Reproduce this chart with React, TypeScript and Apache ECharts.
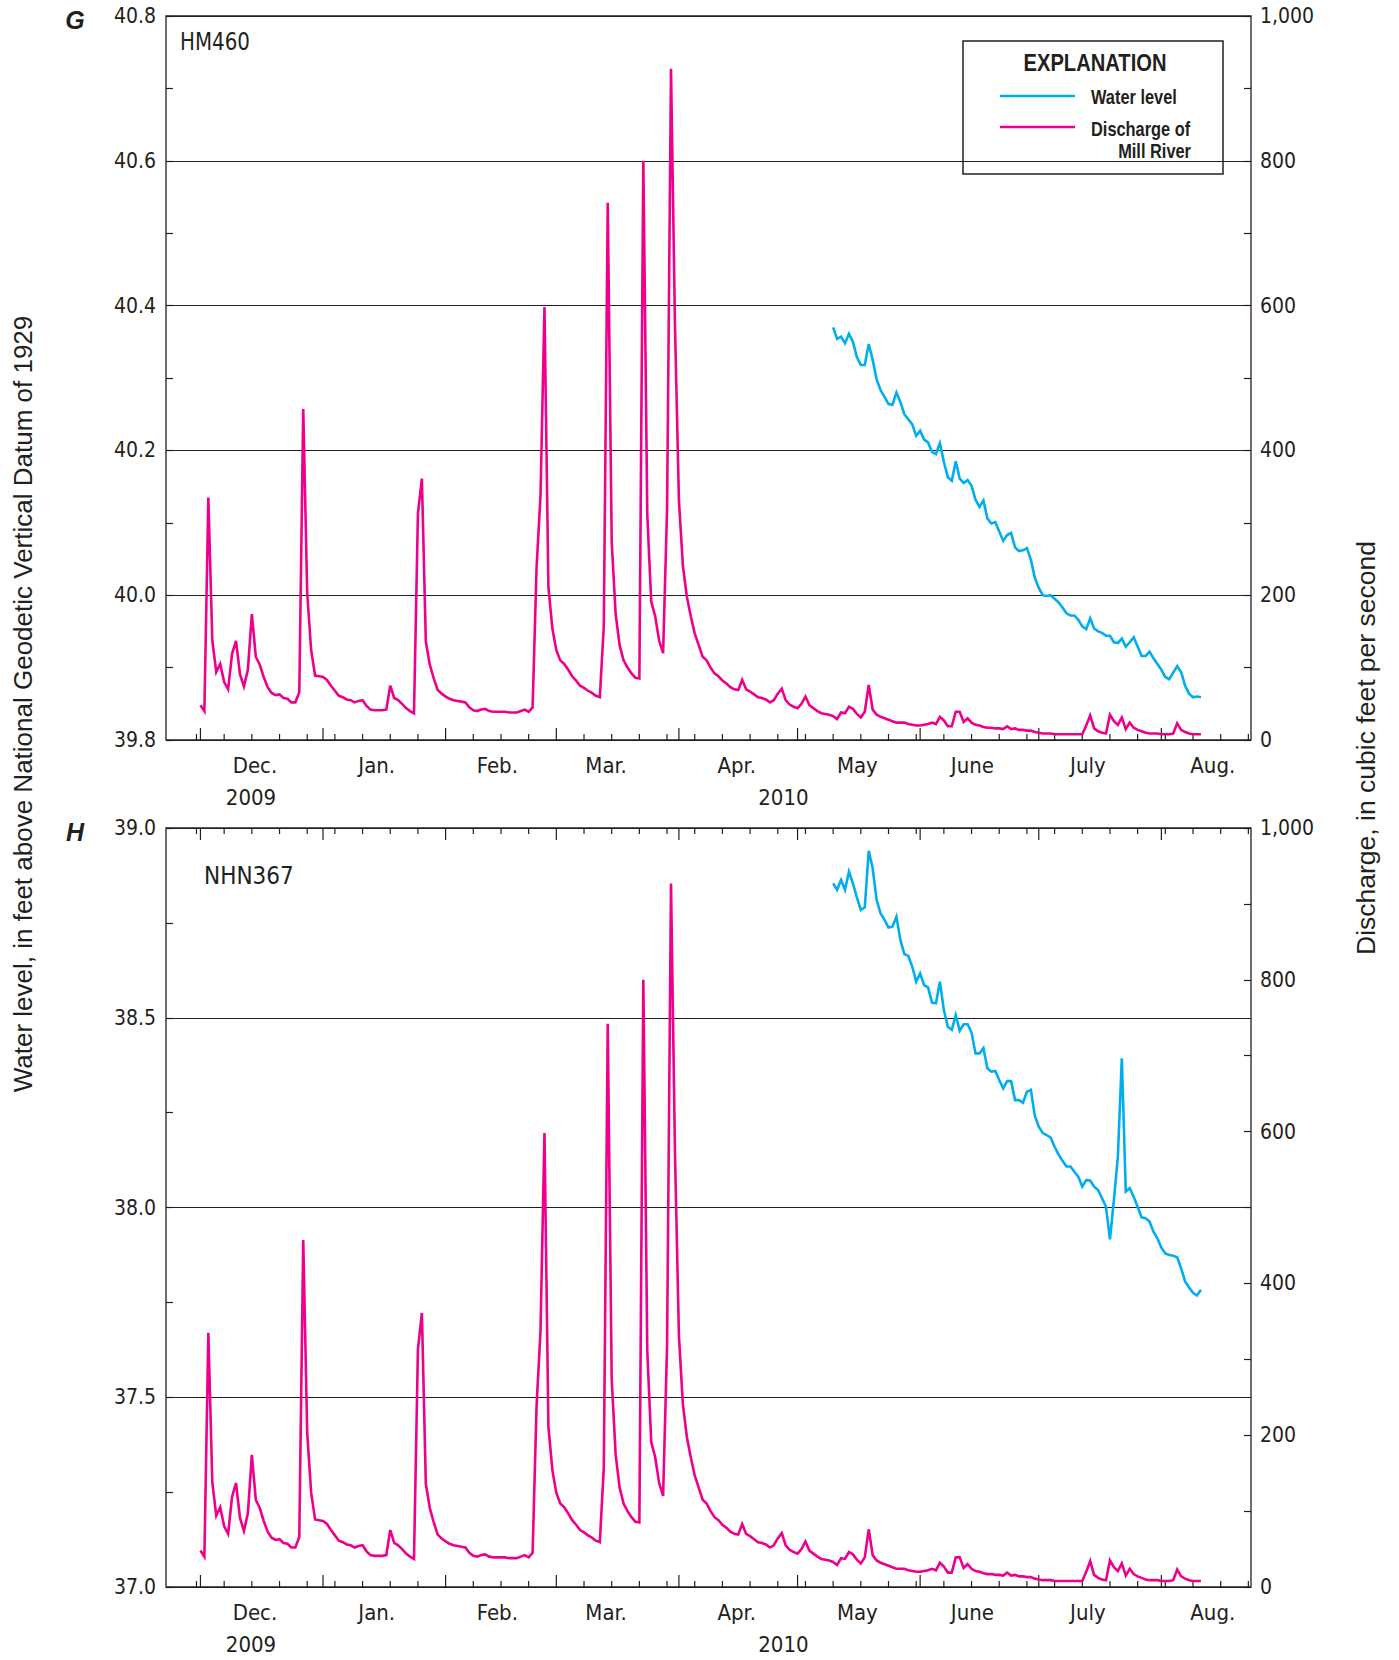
import React, { useEffect, useRef } from "react";
import * as echarts from "echarts";

const DAY_MS = 86400000;
const utc = (y: number, m: number, d: number, h = 0) => Date.UTC(y, m - 1, d, h);

// Daily discharge of Mill River, cubic feet per second (first value is Dec. 1, 2009)
const dischargeStart = utc(2009, 12, 1);
const dischargeDec2009 = [48, 40, 335, 138, 94, 105, 80, 70, 119, 137, 91, 74, 97, 174, 115, 104, 87, 73, 65, 62, 63, 58, 57, 52, 52, 66, 457, 203, 124, 89, 88];
const dischargeJan2010 = [87, 83, 75, 68, 61, 59, 56, 55, 52, 54, 55, 47, 42, 41, 41, 41, 42, 75, 58, 55, 50, 44, 40, 37, 313, 361, 136, 104, 85, 69, 64];
const dischargeFeb2010 = [60, 57, 55, 54, 53, 52, 45, 41, 40, 42, 43, 40, 39, 39, 39, 39, 38, 38, 38, 40, 42, 39, 45, 238, 338, 598, 211, 154];
const dischargeMar2010 = [124, 110, 105, 97, 88, 82, 75, 72, 68, 65, 61, 59, 157, 742, 274, 174, 131, 110, 100, 92, 86, 85, 800, 311, 191, 171, 137, 120, 318, 927, 573];
const dischargeApr2010 = [331, 241, 198, 171, 147, 131, 115, 110, 100, 92, 88, 82, 78, 73, 70, 69, 83, 70, 67, 63, 59, 58, 56, 52, 55, 64, 71, 55, 49, 46];
const dischargeMay2010 = [44, 50, 60, 48, 44, 40, 37, 36, 35, 33, 29, 38, 37, 46, 43, 36, 31, 39, 76, 42, 35, 32, 30, 28, 26, 24, 24, 24, 22, 21, 20];
const dischargeJun2010 = [20, 21, 22, 24, 22, 32, 27, 19, 19, 39, 39, 25, 30, 24, 21, 20, 18, 17, 17, 16, 16, 15, 19, 15, 16, 14, 14, 13, 13, 11];
const dischargeJul2010 = [10, 9, 9, 9, 8, 8, 8, 8, 8, 8, 8, 8, 20, 34, 16, 12, 10, 9, 35, 26, 21, 31, 15, 24, 17, 14, 12, 10, 9, 9, 9];
const dischargeAug2010 = [8, 8, 8, 9, 23, 14, 11, 9, 8, 8, 8];

// Daily water levels, feet above NGVD 1929 (first value is May 10, 2010)
const waterLevelStart = utc(2010, 5, 10);
const waterLevelHM460 = [
  40.370, 40.354, 40.357, 40.348, 40.361, 40.350, 40.329, 40.318, 40.318, 40.347,
  40.325, 40.298, 40.283, 40.274, 40.264, 40.263, 40.280, 40.267, 40.250, 40.243,
  40.236, 40.220, 40.227, 40.215, 40.211, 40.198, 40.195, 40.210, 40.184, 40.163,
  40.158, 40.185, 40.161, 40.155, 40.159, 40.151, 40.132, 40.122, 40.131, 40.106,
  40.099, 40.101, 40.088, 40.075, 40.083, 40.086, 40.066, 40.061, 40.062, 40.065,
  40.049, 40.024, 40.010, 40.000, 39.999, 40.000, 39.995, 39.990, 39.983, 39.975,
  39.972, 39.972, 39.966, 39.957, 39.953, 39.968, 39.954, 39.950, 39.948, 39.944,
  39.944, 39.935, 39.934, 39.940, 39.929, 39.935, 39.942, 39.929, 39.916, 39.916,
  39.922, 39.913, 39.905, 39.897, 39.887, 39.884, 39.893, 39.902, 39.894, 39.875,
  39.864, 39.859, 39.860, 39.859,
];
const waterLevelNHN367 = [
  38.854, 38.837, 38.863, 38.837, 38.885, 38.854, 38.817, 38.784, 38.791, 38.940,
  38.894, 38.810, 38.775, 38.758, 38.738, 38.740, 38.766, 38.705, 38.668, 38.663,
  38.635, 38.595, 38.617, 38.586, 38.580, 38.540, 38.538, 38.595, 38.520, 38.476,
  38.468, 38.507, 38.466, 38.483, 38.483, 38.461, 38.406, 38.406, 38.420, 38.367,
  38.358, 38.360, 38.336, 38.314, 38.333, 38.333, 38.283, 38.283, 38.276, 38.305,
  38.310, 38.241, 38.213, 38.196, 38.191, 38.184, 38.160, 38.140, 38.123, 38.108,
  38.108, 38.094, 38.081, 38.055, 38.072, 38.071, 38.055, 38.046, 38.024, 38.002,
  37.916, 38.020, 38.134, 38.393, 38.042, 38.051, 38.028, 38.002, 37.974, 37.972,
  37.963, 37.936, 37.919, 37.894, 37.879, 37.875, 37.873, 37.869, 37.840, 37.805,
  37.789, 37.775, 37.768, 37.783,
];

// Axis extents and tick settings
const timeMin = utc(2009, 11, 22, 7);
const timeMax = utc(2010, 8, 23, 16);
const firstWeeklyTick = utc(2009, 11, 30);
const monthStarts = [
  utc(2009, 12, 1), utc(2010, 1, 1), utc(2010, 2, 1), utc(2010, 3, 1), utc(2010, 4, 1),
  utc(2010, 5, 1), utc(2010, 6, 1), utc(2010, 7, 1), utc(2010, 8, 1),
];
const monthLabels = ["Dec.", "Jan.", "Feb.", "Mar.", "Apr.", "May", "June", "July", "Aug."];
const monthLabelAt = [
  utc(2009, 12, 14, 19), utc(2010, 1, 14, 14), utc(2010, 2, 14, 2), utc(2010, 3, 13, 14),
  utc(2010, 4, 15, 15), utc(2010, 5, 16, 3), utc(2010, 6, 14, 5), utc(2010, 7, 13, 10), utc(2010, 8, 14, 0),
];
const yearLabels = ["2009", "2010"];
const yearLabelAt = [utc(2009, 12, 13, 19), utc(2010, 4, 27, 10)];

const levelAxisHM460 = { min: 39.8, max: 40.8, interval: 0.2 };
const levelAxisNHN367 = { min: 37.0, max: 39.0, interval: 0.5 };
const dischargeAxis = { min: 0, max: 1000, interval: 200 };

const INK = "#231f20";
const MAGENTA = "#ec008c";
const CYAN = "#00aeef";
const NARROW = '"Liberation Sans Narrow", "Arial Narrow", "DejaVu Sans Condensed", sans-serif';
const REGULAR = '"Liberation Sans", Arial, sans-serif';

const PLOT_LEFT = 166;
const PLOT_WIDTH = 1085;
const TOP_PANEL = { top: 16, height: 724 };
const BOTTOM_PANEL = { top: 828, height: 759 };

const dischargeSeries = [
  ...dischargeDec2009, ...dischargeJan2010, ...dischargeFeb2010, ...dischargeMar2010,
  ...dischargeApr2010, ...dischargeMay2010, ...dischargeJun2010, ...dischargeJul2010, ...dischargeAug2010,
].map((v, i) => [dischargeStart + i * DAY_MS, v]);
const toDaily = (vals: number[]) => vals.map((v, i) => [waterLevelStart + i * DAY_MS, v]);

function buildTickData() {
  const ticks: number[][] = [];
  for (let t = firstWeeklyTick; t <= timeMax; t += 7 * DAY_MS) {
    if (!monthStarts.includes(t)) ticks.push([t, 6]);
  }
  monthStarts.forEach((t) => ticks.push([t, 12]));
  return ticks;
}

function textStyle(text: string, size: number, family: string, align: string, extra: any = {}) {
  return {
    text,
    fill: INK,
    fontSize: size,
    fontFamily: family,
    align,
    textAlign: align,
    verticalAlign: "middle",
    textVerticalAlign: "middle",
    ...extra,
  };
}

function tickSeries(gridIdx: number, yBase: number, yTop: number | null) {
  return {
    type: "custom",
    xAxisIndex: gridIdx,
    yAxisIndex: gridIdx * 2,
    silent: true,
    clip: false,
    z: 5,
    data: buildTickData(),
    renderItem: (_p: any, api: any) => {
      const t = api.value(0);
      const len = api.value(1);
      const b = api.coord([t, yBase]);
      const children: any[] = [
        { type: "line", shape: { x1: b[0], y1: b[1], x2: b[0], y2: b[1] - len }, style: { stroke: INK, lineWidth: 1.2 } },
      ];
      if (yTop !== null) {
        const q = api.coord([t, yTop]);
        children.push({ type: "line", shape: { x1: q[0], y1: q[1], x2: q[0], y2: q[1] + len }, style: { stroke: INK, lineWidth: 1.2 } });
      }
      return { type: "group", children };
    },
  };
}

function dateLabelSeries(gridIdx: number, yBase: number) {
  const items = [
    ...monthLabelAt.map((t, i) => ({ value: [t, 0], name: monthLabels[i], off: 25 })),
    ...yearLabelAt.map((t, i) => ({ value: [t, 1], name: yearLabels[i], off: 57 })),
  ];
  return {
    type: "custom",
    xAxisIndex: gridIdx,
    yAxisIndex: gridIdx * 2,
    silent: true,
    clip: false,
    data: items.map((d) => d.value),
    renderItem: (p: any, api: any) => {
      const d = items[p.dataIndex];
      const c = api.coord([api.value(0), yBase]);
      return {
        type: "text",
        x: c[0],
        y: c[1] + d.off,
        style: textStyle(d.name, 22, NARROW, "center"),
      };
    },
  };
}

function levelAxis(gridIdx: number, cfg: { min: number; max: number; interval: number }) {
  return {
    type: "value",
    gridIndex: gridIdx,
    position: "left",
    min: cfg.min,
    max: cfg.max,
    interval: cfg.interval,
    axisLine: { show: false },
    axisTick: { show: true, inside: true, length: 7, lineStyle: { color: INK, width: 1.2 } },
    minorTick: { show: true, splitNumber: 2, length: 7, lineStyle: { color: INK, width: 1.2 } },
    splitLine: { show: true, lineStyle: { color: INK, width: 1.1 } },
    axisLabel: {
      margin: 10,
      color: INK,
      fontSize: 21,
      fontFamily: NARROW,
      formatter: (v: number) => v.toFixed(1),
    },
  };
}

function flowAxis(gridIdx: number) {
  return {
    type: "value",
    gridIndex: gridIdx,
    position: "right",
    min: dischargeAxis.min,
    max: dischargeAxis.max,
    interval: dischargeAxis.interval,
    axisLine: { show: false },
    axisTick: { show: true, inside: true, length: 7, lineStyle: { color: INK, width: 1.2 } },
    minorTick: { show: true, splitNumber: 2, length: 7, lineStyle: { color: INK, width: 1.2 } },
    splitLine: { show: false },
    axisLabel: {
      margin: 9,
      color: INK,
      fontSize: 21,
      fontFamily: NARROW,
      padding: [4, 0, 0, 0],
      formatter: (v: number) => v.toLocaleString("en-US"),
    },
  };
}

function timeAxis(gridIdx: number) {
  return {
    type: "time",
    gridIndex: gridIdx,
    min: timeMin,
    max: timeMax,
    axisLine: { show: false },
    axisTick: { show: false },
    axisLabel: { show: false },
    splitLine: { show: false },
  };
}

function lineSeries(gridIdx: number, yAxisIndex: number, data: number[][], color: string, name: string) {
  return {
    type: "line",
    name,
    xAxisIndex: gridIdx,
    yAxisIndex,
    data,
    symbol: "none",
    z: 10,
    lineStyle: { color, width: 2.6, join: "miter" },
  };
}

// Condensed bold text for the explanation box, drawn by squeezing Liberation Sans
function legendText(text: string, x: number, y: number, size: number, align: string, squeeze: number) {
  return {
    type: "text",
    x,
    y,
    scaleX: squeeze,
    style: textStyle(text, size, REGULAR, align, { fontWeight: "bold" }),
  };
}

export default function App() {
  const ref = useRef<HTMLDivElement>(null);

  useEffect(() => {
    document.body.style.margin = "0";
    if (!ref.current) return;
    const chart = echarts.init(ref.current, undefined, { renderer: "svg" });

    const gridBase = {
      left: PLOT_LEFT,
      width: PLOT_WIDTH,
      show: true,
      borderColor: INK,
      borderWidth: 1.3,
      backgroundColor: "transparent",
      containLabel: false,
    };

    chart.setOption({
      animation: false,
      backgroundColor: "#ffffff",
      grid: [
        { ...gridBase, top: TOP_PANEL.top, height: TOP_PANEL.height },
        { ...gridBase, top: BOTTOM_PANEL.top, height: BOTTOM_PANEL.height },
      ],
      xAxis: [timeAxis(0), timeAxis(1)],
      yAxis: [levelAxis(0, levelAxisHM460), flowAxis(0), levelAxis(1, levelAxisNHN367), flowAxis(1)],
      series: [
        lineSeries(0, 1, dischargeSeries, MAGENTA, "Discharge of Mill River"),
        lineSeries(0, 0, toDaily(waterLevelHM460), CYAN, "Water level"),
        lineSeries(1, 3, dischargeSeries, MAGENTA, "Discharge of Mill River"),
        lineSeries(1, 2, toDaily(waterLevelNHN367), CYAN, "Water level"),
        tickSeries(0, levelAxisHM460.min, null),
        tickSeries(1, levelAxisNHN367.min, levelAxisNHN367.max),
        dateLabelSeries(0, levelAxisHM460.min),
        dateLabelSeries(1, levelAxisNHN367.min),
      ],
      graphic: [
        { type: "text", x: 75, y: 20, style: textStyle("G", 25, REGULAR, "center", { fontWeight: "bold", fontStyle: "italic" }) },
        { type: "text", x: 75, y: 832, style: textStyle("H", 25, REGULAR, "center", { fontWeight: "bold", fontStyle: "italic" }) },
        { type: "text", x: 180, y: 42, scaleX: 0.92, style: textStyle("HM460", 24, NARROW, "left") },
        { type: "text", x: 204, y: 876, style: textStyle("NHN367", 24, NARROW, "left") },
        {
          type: "text",
          x: 23,
          y: 704,
          rotation: Math.PI / 2,
          style: textStyle("Water level, in feet above National Geodetic Vertical Datum of 1929", 26, REGULAR, "center"),
        },
        {
          type: "text",
          x: 1366,
          y: 748,
          rotation: Math.PI / 2,
          style: textStyle("Discharge, in cubic feet per second", 26.5, REGULAR, "center"),
        },
        {
          type: "group",
          z: 100,
          children: [
            { type: "rect", shape: { x: 963, y: 41, width: 260, height: 133 }, style: { fill: "#ffffff", stroke: INK, lineWidth: 1.5 } },
            legendText("EXPLANATION", 1095, 63, 24, "center", 0.84),
            { type: "line", shape: { x1: 1000, y1: 96, x2: 1075, y2: 96 }, style: { stroke: CYAN, lineWidth: 2.6 } },
            legendText("Water level", 1091, 97, 20, "left", 0.82),
            { type: "line", shape: { x1: 1000, y1: 127, x2: 1075, y2: 127 }, style: { stroke: MAGENTA, lineWidth: 2.6 } },
            legendText("Discharge of", 1091, 129, 20, "left", 0.82),
            legendText("Mill River", 1191, 151, 20, "right", 0.82),
          ],
        },
      ],
    });

    return () => chart.dispose();
  }, []);

  return <div ref={ref} style={{ width: 1399, height: 1660 }} />;
}
